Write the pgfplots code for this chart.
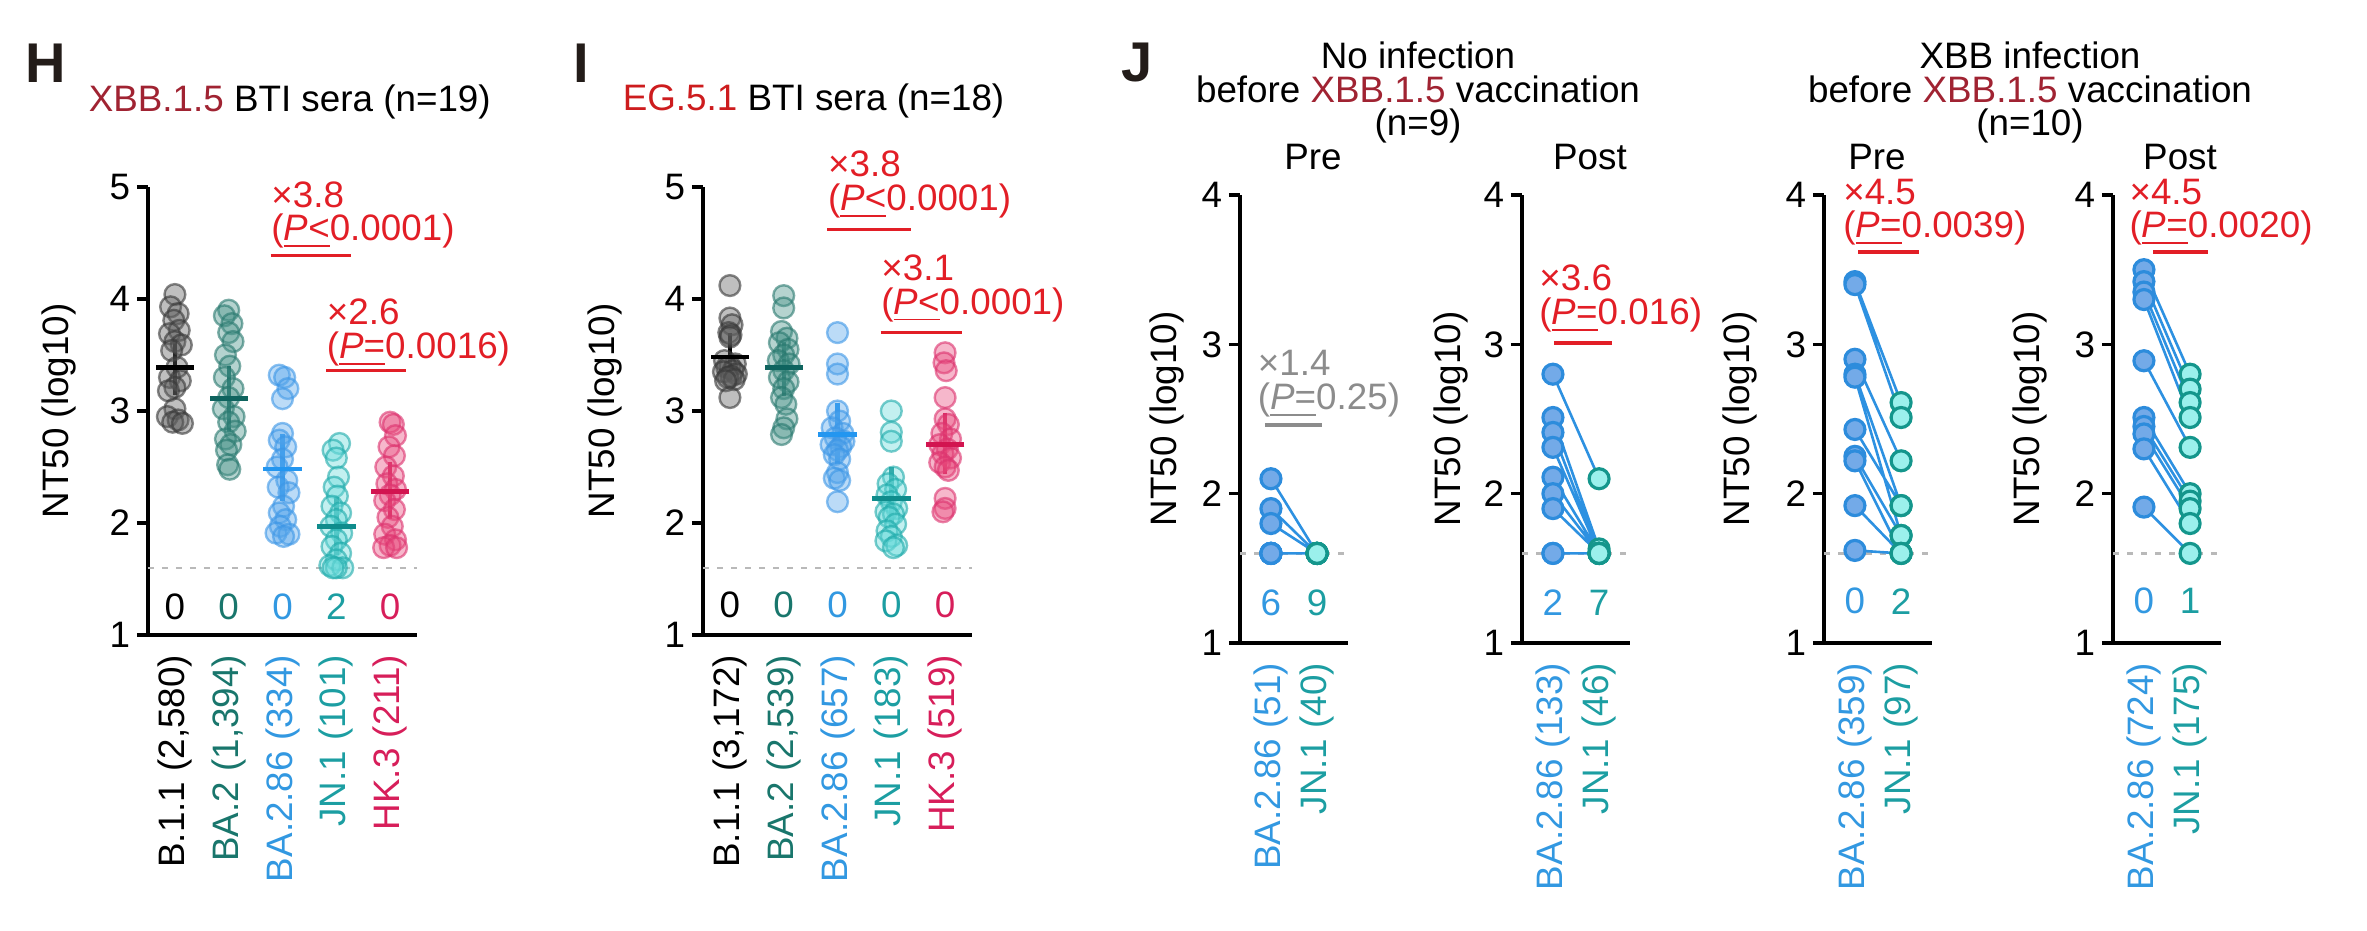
\documentclass[border=0pt]{standalone}
\usepackage{fontspec}
\setmainfont{Liberation Sans}
\usepackage{pgfplots}
\pgfplotsset{compat=1.18}
\definecolor{sigred}{RGB}{226,30,38}
\definecolor{siggray}{RGB}{140,140,140}
\definecolor{xbbred}{RGB}{160,35,50}
\definecolor{egred}{RGB}{205,28,30}
\definecolor{letter}{RGB}{35,28,25}
\definecolor{cBA2}{RGB}{25,118,108}
\definecolor{cBA286}{RGB}{50,152,225}
\definecolor{cJN1}{RGB}{28,158,162}
\definecolor{cHK3}{RGB}{215,30,90}
\definecolor{fB}{RGB}{95,95,95}
\definecolor{eB}{RGB}{55,55,55}
\definecolor{fBA2}{RGB}{70,145,135}
\definecolor{eBA2}{RGB}{40,120,110}
\definecolor{fBA286}{RGB}{85,165,235}
\definecolor{eBA286}{RGB}{60,150,230}
\definecolor{fJN1}{RGB}{105,218,218}
\definecolor{eJN1}{RGB}{30,170,170}
\definecolor{fHK3}{RGB}{232,75,125}
\definecolor{eHK3}{RGB}{220,50,110}
\definecolor{mBA2}{RGB}{15,100,95}
\definecolor{mBA286}{RGB}{35,150,240}
\definecolor{mJN1}{RGB}{15,140,140}
\definecolor{mHK3}{RGB}{210,20,80}
\definecolor{preF}{RGB}{115,170,232}
\definecolor{preE}{RGB}{45,140,220}
\definecolor{postF}{RGB}{155,240,236}
\definecolor{postE}{RGB}{20,150,140}
\definecolor{pairline}{RGB}{45,145,225}
\definecolor{lod}{RGB}{185,185,185}
\pgfplotsset{
  base/.style={scale only axis, anchor=south west, axis lines*=left,
    axis line style={-,line width=0.8pt}, tick align=outside, major tick length=2.8pt,
    xtick style={draw=none}, ytick style={line width=0.8pt,black}, clip=false,
    /pgf/number format/assume math mode=true,
    xticklabel style={rotate=90, anchor=east, inner sep=2pt},
    yticklabel style={inner sep=1.5pt},
    ylabel={NT50 (log10)}, unbounded coords=jump},
  hi/.style={base, width=67.25pt, height=112pt, xmin=0.5, xmax=5.5, ymin=1, ymax=5,
    ytick={1,2,3,4,5}, xtick={1,2,3,4,5}},
  jj/.style={base, width=27pt, height=112pt, xmin=0.33, xmax=2.67, ymin=1, ymax=4,
    ytick={1,2,3,4}, xtick={1,2}},
  dot/.style 2 args={only marks, mark=*, mark size=2.6pt,
    mark options={draw=#1, fill=#2, fill opacity=0.4, draw opacity=0.6, line width=0.6pt}},
  meanbar/.style={color=#1, mark=-, mark size=4.8pt, mark options={line width=1.1pt},
    error bars/.cd, y dir=both, y explicit, error mark=-,
    error mark options={mark size=2.4pt, line width=1.1pt, #1},
    error bar style={line width=1.1pt, #1}},
  pre/.style={only marks, mark=*, mark size=2.5pt, mark options={draw=preE, fill=preF, line width=0.8pt}},
  post/.style={only marks, mark=*, mark size=2.5pt, mark options={draw=postE, fill=postF, line width=0.8pt}},
  pairs/.style={pairline, line width=0.65pt, no marks},
}
\tikzset{ann/.style={anchor=west, inner sep=0pt, align=left, text=#1,
    font=\fontsize{9.2pt}{8.4pt}\selectfont},
  jtitle/.style={anchor=north, inner sep=0pt, align=center,
    font=\fontsize{9.2pt}{8.4pt}\selectfont}}
\begin{document}
\fontsize{9.2pt}{9.6pt}\selectfont
\begin{tikzpicture}
\path[use as bounding box] (0,0) rectangle (591.75pt,232.75pt);

% ---------- panel letters and titles ----------
\node[text=letter, font=\fontsize{14pt}{14pt}\selectfont\bfseries] at (11.4pt,217pt) {H};
\node[text=letter, font=\fontsize{14pt}{14pt}\selectfont\bfseries] at (145.3pt,217pt) {I};
\node[text=letter, font=\fontsize{14pt}{14pt}\selectfont\bfseries] at (284.3pt,217pt) {J};
\node[anchor=base west, inner sep=0pt] at (22pt,204.75pt) {\textcolor{xbbred}{XBB.1.5} BTI sera (n=19)};
\node[anchor=base west, inner sep=0pt] at (155.5pt,205pt) {\textcolor{egred}{EG.5.1} BTI sera (n=18)};

\node[jtitle] at (354.5pt,222.5pt) {No infection\\before \textcolor{xbbred}{XBB.1.5} vaccination\\(n=9)};
\node[anchor=base, inner sep=0pt] at (328.25pt,190.25pt) {Pre};
\node[anchor=base, inner sep=0pt] at (397.5pt,190.25pt) {Post};

\node[jtitle] at (507.5pt,222.5pt) {XBB infection\\before \textcolor{xbbred}{XBB.1.5} vaccination\\(n=10)};
\node[anchor=base, inner sep=0pt] at (469.25pt,190.25pt) {Pre};
\node[anchor=base, inner sep=0pt] at (545pt,190.25pt) {Post};

% ---------- Panel H ----------
\begin{axis}[hi, at={(37pt,74pt)},
  ylabel style={at={(axis description cs:-0.33,0.5)}, anchor=center},
  xticklabels={{B.1.1 (2,580)},{\textcolor{cBA2}{BA.2 (1,394)}},{\textcolor{cBA286}{BA.2.86 (334)}},{\textcolor{cJN1}{JN.1 (101)}},{\textcolor{cHK3}{HK.3 (211)}}}]
\draw[lod, line width=0.6pt, dash pattern=on 1.5pt off 2pt] (axis cs:0.5,1.6) -- (axis cs:5.5,1.6);
\addplot[dot={eB}{fB}] coordinates {(1.00,4.04) (0.92,3.93) (1.06,3.87) (0.98,3.81) (1.08,3.72) (0.90,3.69) (1.00,3.62) (1.12,3.59) (0.94,3.54) (1.04,3.39) (0.90,3.30) (1.10,3.27) (1.00,3.21) (0.88,3.18) (1.00,3.02) (0.86,2.95) (1.06,2.92) (0.96,2.90) (1.14,2.89)};
\addplot[dot={eBA2}{fBA2}] coordinates {(2.00,3.90) (1.92,3.85) (2.06,3.78) (2.00,3.70) (2.08,3.62) (1.94,3.50) (2.02,3.40) (1.92,3.30) (2.08,3.20) (2.00,3.12) (1.90,3.02) (2.10,2.95) (2.00,2.90) (2.12,2.82) (1.94,2.75) (2.04,2.70) (1.96,2.65) (1.98,2.52) (2.02,2.48)};
\addplot[dot={eBA286}{fBA286}] coordinates {(2.94,3.32) (3.04,3.30) (3.10,3.20) (3.00,3.11) (3.00,2.80) (2.94,2.74) (3.06,2.68) (3.00,2.57) (2.90,2.50) (3.08,2.38) (2.92,2.32) (3.12,2.27) (3.02,2.15) (2.94,2.09) (3.06,2.03) (2.96,1.97) (2.88,1.91) (3.12,1.90) (3.02,1.88)};
\addplot[dot={eJN1}{fJN1}] coordinates {(4.06,2.71) (3.94,2.65) (4.00,2.58) (4.04,2.41) (3.96,2.32) (4.02,2.24) (3.92,2.15) (4.08,2.09) (4.00,2.03) (3.90,1.97) (4.10,1.91) (4.00,1.85) (3.92,1.79) (4.08,1.73) (4.00,1.67) (3.88,1.62) (4.12,1.60) (4.00,1.60) (3.94,1.60)};
\addplot[dot={eHK3}{fHK3}] coordinates {(5.00,2.90) (5.06,2.88) (5.10,2.78) (4.98,2.68) (5.08,2.60) (4.92,2.50) (5.06,2.42) (4.94,2.35) (5.10,2.30) (5.00,2.25) (4.90,2.20) (5.08,2.12) (4.96,2.05) (5.04,1.97) (4.90,1.90) (5.10,1.85) (5.00,1.80) (4.88,1.78) (5.12,1.78)};
\addplot[meanbar=black] coordinates {(1,3.39) += (0,0.17) -= (0,0.16)};
\addplot[meanbar=mBA2] coordinates {(2,3.11) += (0,0.21) -= (0,0.21)};
\addplot[meanbar=mBA286] coordinates {(3,2.48) += (0,0.23) -= (0,0.20)};
\addplot[meanbar=mJN1] coordinates {(4,1.97) += (0,0.18) -= (0,0.17)};
\addplot[meanbar=mHK3] coordinates {(5,2.28) += (0,0.18) -= (0,0.16)};
\node[text=black] at (axis cs:1,1.25) {0};
\node[text=cBA2] at (axis cs:2,1.25) {0};
\node[text=cBA286] at (axis cs:3,1.25) {0};
\node[text=cJN1] at (axis cs:4,1.25) {2};
\node[text=cHK3] at (axis cs:5,1.25) {0};
\node[ann=sigred] at (axis cs:2.78,4.75) {×3.8\\(\underline{\textit{P}<}0.0001)};
\draw[sigred, line width=0.9pt] (axis cs:2.78,4.39) -- (axis cs:4.27,4.39);
\node[ann=sigred] at (axis cs:3.81,3.70) {×2.6\\(\underline{\textit{P}=}0.0016)};
\draw[sigred, line width=0.9pt] (axis cs:3.81,3.36) -- (axis cs:5.30,3.36);
\end{axis}

% ---------- Panel I ----------
\begin{axis}[hi, at={(175.75pt,74pt)},
  ylabel style={at={(axis description cs:-0.364,0.5)}, anchor=center},
  xticklabels={{B.1.1 (3,172)},{\textcolor{cBA2}{BA.2 (2,539)}},{\textcolor{cBA286}{BA.2.86 (657)}},{\textcolor{cJN1}{JN.1 (183)}},{\textcolor{cHK3}{HK.3 (519)}}}]
\draw[lod, line width=0.6pt, dash pattern=on 1.5pt off 2pt] (axis cs:0.5,1.6) -- (axis cs:5.5,1.6);
\addplot[dot={eB}{fB}] coordinates {(1.00,4.12) (1.00,3.83) (1.04,3.77) (0.98,3.70) (1.02,3.68) (1.00,3.66) (0.90,3.45) (1.10,3.42) (1.00,3.40) (0.94,3.39) (1.06,3.36) (0.88,3.35) (1.12,3.33) (1.02,3.31) (0.96,3.30) (1.08,3.28) (0.92,3.27) (1.00,3.12)};
\addplot[dot={eBA2}{fBA2}] coordinates {(2.00,4.03) (2.00,3.92) (1.96,3.71) (2.06,3.65) (1.92,3.61) (2.08,3.55) (2.00,3.50) (1.90,3.45) (2.10,3.42) (2.00,3.36) (1.92,3.30) (2.08,3.26) (2.00,3.20) (1.96,3.12) (2.04,3.06) (2.06,2.93) (2.00,2.85) (1.96,2.79)};
\addplot[dot={eBA286}{fBA286}] coordinates {(3.00,3.70) (3.00,3.42) (3.00,3.33) (3.00,3.00) (3.04,2.91) (2.90,2.85) (3.10,2.80) (2.96,2.76) (3.12,2.73) (2.88,2.70) (3.06,2.68) (3.00,2.65) (2.94,2.61) (3.04,2.57) (3.00,2.45) (2.94,2.40) (3.04,2.38) (3.00,2.19)};
\addplot[dot={eJN1}{fJN1}] coordinates {(4.00,3.00) (4.00,2.81) (4.00,2.73) (4.04,2.41) (3.94,2.35) (4.08,2.30) (3.92,2.25) (4.00,2.19) (4.10,2.13) (3.90,2.10) (4.04,2.08) (3.96,2.05) (4.08,1.99) (3.92,1.93) (4.00,1.88) (3.90,1.84) (4.10,1.80) (4.04,1.78)};
\addplot[dot={eHK3}{fHK3}] coordinates {(5.00,3.52) (4.98,3.43) (5.02,3.36) (5.00,3.12) (5.00,2.93) (5.06,2.88) (4.94,2.80) (5.10,2.75) (4.90,2.70) (5.04,2.66) (4.96,2.62) (5.10,2.58) (4.90,2.54) (5.00,2.50) (5.06,2.47) (5.00,2.22) (5.00,2.13) (4.96,2.10)};
\addplot[meanbar=black] coordinates {(1,3.48) += (0,0.13) -= (0,0.12)};
\addplot[meanbar=mBA2] coordinates {(2,3.39) += (0,0.14) -= (0,0.17)};
\addplot[meanbar=mBA286] coordinates {(3,2.79) += (0,0.20) -= (0,0.18)};
\addplot[meanbar=mJN1] coordinates {(4,2.22) += (0,0.19) -= (0,0.17)};
\addplot[meanbar=mHK3] coordinates {(5,2.70) += (0,0.20) -= (0,0.18)};
\node[text=black] at (axis cs:1,1.27) {0};
\node[text=cBA2] at (axis cs:2,1.27) {0};
\node[text=cBA286] at (axis cs:3,1.27) {0};
\node[text=cJN1] at (axis cs:4,1.27) {0};
\node[text=cHK3] at (axis cs:5,1.27) {0};
\node[ann=sigred] at (axis cs:2.81,5.02) {×3.8\\(\underline{\textit{P}<}0.0001)};
\draw[sigred, line width=0.9pt] (axis cs:2.81,4.62) -- (axis cs:4.37,4.62);
\node[ann=sigred] at (axis cs:3.80,4.095) {×3.1\\(\underline{\textit{P}<}0.0001)};
\draw[sigred, line width=0.9pt] (axis cs:3.80,3.70) -- (axis cs:5.31,3.70);
\end{axis}

% ---------- Panel J1: no infection, Pre ----------
\begin{axis}[jj, at={(310pt,72pt)},
  ylabel style={at={(axis description cs:-0.676,0.5)}, anchor=center},
  xticklabels={{\textcolor{cBA286}{BA.2.86 (51)}},{\textcolor{cJN1}{JN.1 (40)}}}]
\draw[lod, line width=0.6pt, dash pattern=on 1.5pt off 2pt] (axis cs:0.33,1.6) -- (axis cs:2.67,1.6);
\addplot[pairs] coordinates {(1,2.10) (2,1.60) (1,nan) (1,1.90) (2,1.60) (1,nan) (1,1.80) (2,1.60) (1,nan) (1,1.60) (2,1.60)};
\addplot[pre] coordinates {(1,2.10) (1,1.90) (1,1.80) (1,1.60) (1,1.60) (1,1.60) (1,1.60) (1,1.60) (1,1.60)};
\addplot[post] coordinates {(2,1.60) (2,1.60) (2,1.60) (2,1.60) (2,1.60) (2,1.60) (2,1.60) (2,1.60) (2,1.60)};
\node[text=cBA286] at (axis cs:1,1.27) {6};
\node[text=cJN1] at (axis cs:2,1.27) {9};
\node[ann=siggray] at (axis cs:0.70,2.735) {×1.4\\(\underline{\textit{P}=}0.25)};
\draw[siggray, line width=0.9pt] (axis cs:0.87,2.46) -- (axis cs:2.11,2.46);
\end{axis}

% ---------- Panel J2: no infection, Post ----------
\begin{axis}[jj, at={(380.5pt,72pt)},
  ylabel style={at={(axis description cs:-0.66,0.5)}, anchor=center},
  xticklabels={{\textcolor{cBA286}{BA.2.86 (133)}},{\textcolor{cJN1}{JN.1 (46)}}}]
\draw[lod, line width=0.6pt, dash pattern=on 1.5pt off 2pt] (axis cs:0.33,1.6) -- (axis cs:2.67,1.6);
\addplot[pairs] coordinates {(1,2.80) (2,2.10) (1,nan) (1,2.51) (2,1.63) (1,nan) (1,2.41) (2,1.60) (1,nan) (1,2.31) (2,1.60) (1,nan) (1,2.11) (2,1.60) (1,nan) (1,2.00) (2,1.60) (1,nan) (1,1.90) (2,1.60) (1,nan) (1,1.60) (2,1.60)};
\addplot[pre] coordinates {(1,2.80) (1,2.51) (1,2.41) (1,2.31) (1,2.11) (1,2.00) (1,1.90) (1,1.60) (1,1.60)};
\addplot[post] coordinates {(2,2.10) (2,1.63) (2,1.60) (2,1.60) (2,1.60) (2,1.60) (2,1.60) (2,1.60) (2,1.60)};
\node[text=cBA286] at (axis cs:1,1.27) {2};
\node[text=cJN1] at (axis cs:2,1.27) {7};
\node[ann=sigred] at (axis cs:0.69,3.305) {×3.6\\(\underline{\textit{P}=}0.016)};
\draw[sigred, line width=0.9pt] (axis cs:1.02,3.01) -- (axis cs:2.29,3.01);
\end{axis}

% ---------- Panel J3: XBB infection, Pre ----------
\begin{axis}[jj, at={(456pt,72pt)},
  ylabel style={at={(axis description cs:-0.78,0.5)}, anchor=center},
  xticklabels={{\textcolor{cBA286}{BA.2.86 (359)}},{\textcolor{cJN1}{JN.1 (97)}}}]
\draw[lod, line width=0.6pt, dash pattern=on 1.5pt off 2pt] (axis cs:0.33,1.6) -- (axis cs:2.67,1.6);
\addplot[pairs] coordinates {(1,3.42) (2,2.61) (1,nan) (1,3.40) (2,2.51) (1,nan) (1,2.90) (2,2.22) (1,nan) (1,2.80) (2,1.92) (1,nan) (1,2.78) (2,1.72) (1,nan) (1,2.43) (2,1.92) (1,nan) (1,2.25) (2,1.72) (1,nan) (1,2.22) (2,1.60) (1,nan) (1,1.92) (2,1.60) (1,nan) (1,1.62) (2,1.60)};
\addplot[pre] coordinates {(1,3.42) (1,3.40) (1,2.90) (1,2.80) (1,2.78) (1,2.43) (1,2.25) (1,2.22) (1,1.92) (1,1.62)};
\addplot[post] coordinates {(2,2.61) (2,2.51) (2,2.22) (2,1.92) (2,1.72) (2,1.92) (2,1.72) (2,1.60) (2,1.60) (2,1.60)};
\node[text=cBA286] at (axis cs:1,1.28) {0};
\node[text=cJN1] at (axis cs:2,1.28) {2};
\node[ann=sigred] at (axis cs:0.73,3.885) {×4.5\\(\underline{\textit{P}=}0.0039)};
\draw[sigred, line width=0.9pt] (axis cs:1.07,3.62) -- (axis cs:2.38,3.62);
\end{axis}

% ---------- Panel J4: XBB infection, Post ----------
\begin{axis}[jj, at={(528.25pt,72pt)},
  ylabel style={at={(axis description cs:-0.77,0.5)}, anchor=center},
  xticklabels={{\textcolor{cBA286}{BA.2.86 (724)}},{\textcolor{cJN1}{JN.1 (175)}}}]
\draw[lod, line width=0.6pt, dash pattern=on 1.5pt off 2pt] (axis cs:0.33,1.6) -- (axis cs:2.67,1.6);
\addplot[pairs] coordinates {(1,3.50) (2,2.80) (1,nan) (1,3.42) (2,2.70) (1,nan) (1,3.35) (2,2.61) (1,nan) (1,3.30) (2,2.51) (1,nan) (1,2.89) (2,2.31) (1,nan) (1,2.51) (2,2.00) (1,nan) (1,2.45) (2,1.95) (1,nan) (1,2.40) (2,1.90) (1,nan) (1,2.30) (2,1.80) (1,nan) (1,1.91) (2,1.60)};
\addplot[pre] coordinates {(1,3.50) (1,3.42) (1,3.35) (1,3.30) (1,2.89) (1,2.51) (1,2.45) (1,2.40) (1,2.30) (1,1.91)};
\addplot[post] coordinates {(2,2.80) (2,2.70) (2,2.61) (2,2.51) (2,2.31) (2,2.00) (2,1.95) (2,1.90) (2,1.80) (2,1.60)};
\node[text=cBA286] at (axis cs:1,1.28) {0};
\node[text=cJN1] at (axis cs:2,1.28) {1};
\node[ann=sigred] at (axis cs:0.67,3.885) {×4.5\\(\underline{\textit{P}=}0.0020)};
\draw[sigred, line width=0.9pt] (axis cs:1.20,3.62) -- (axis cs:2.39,3.62);
\end{axis}
\end{tikzpicture}
\end{document}
